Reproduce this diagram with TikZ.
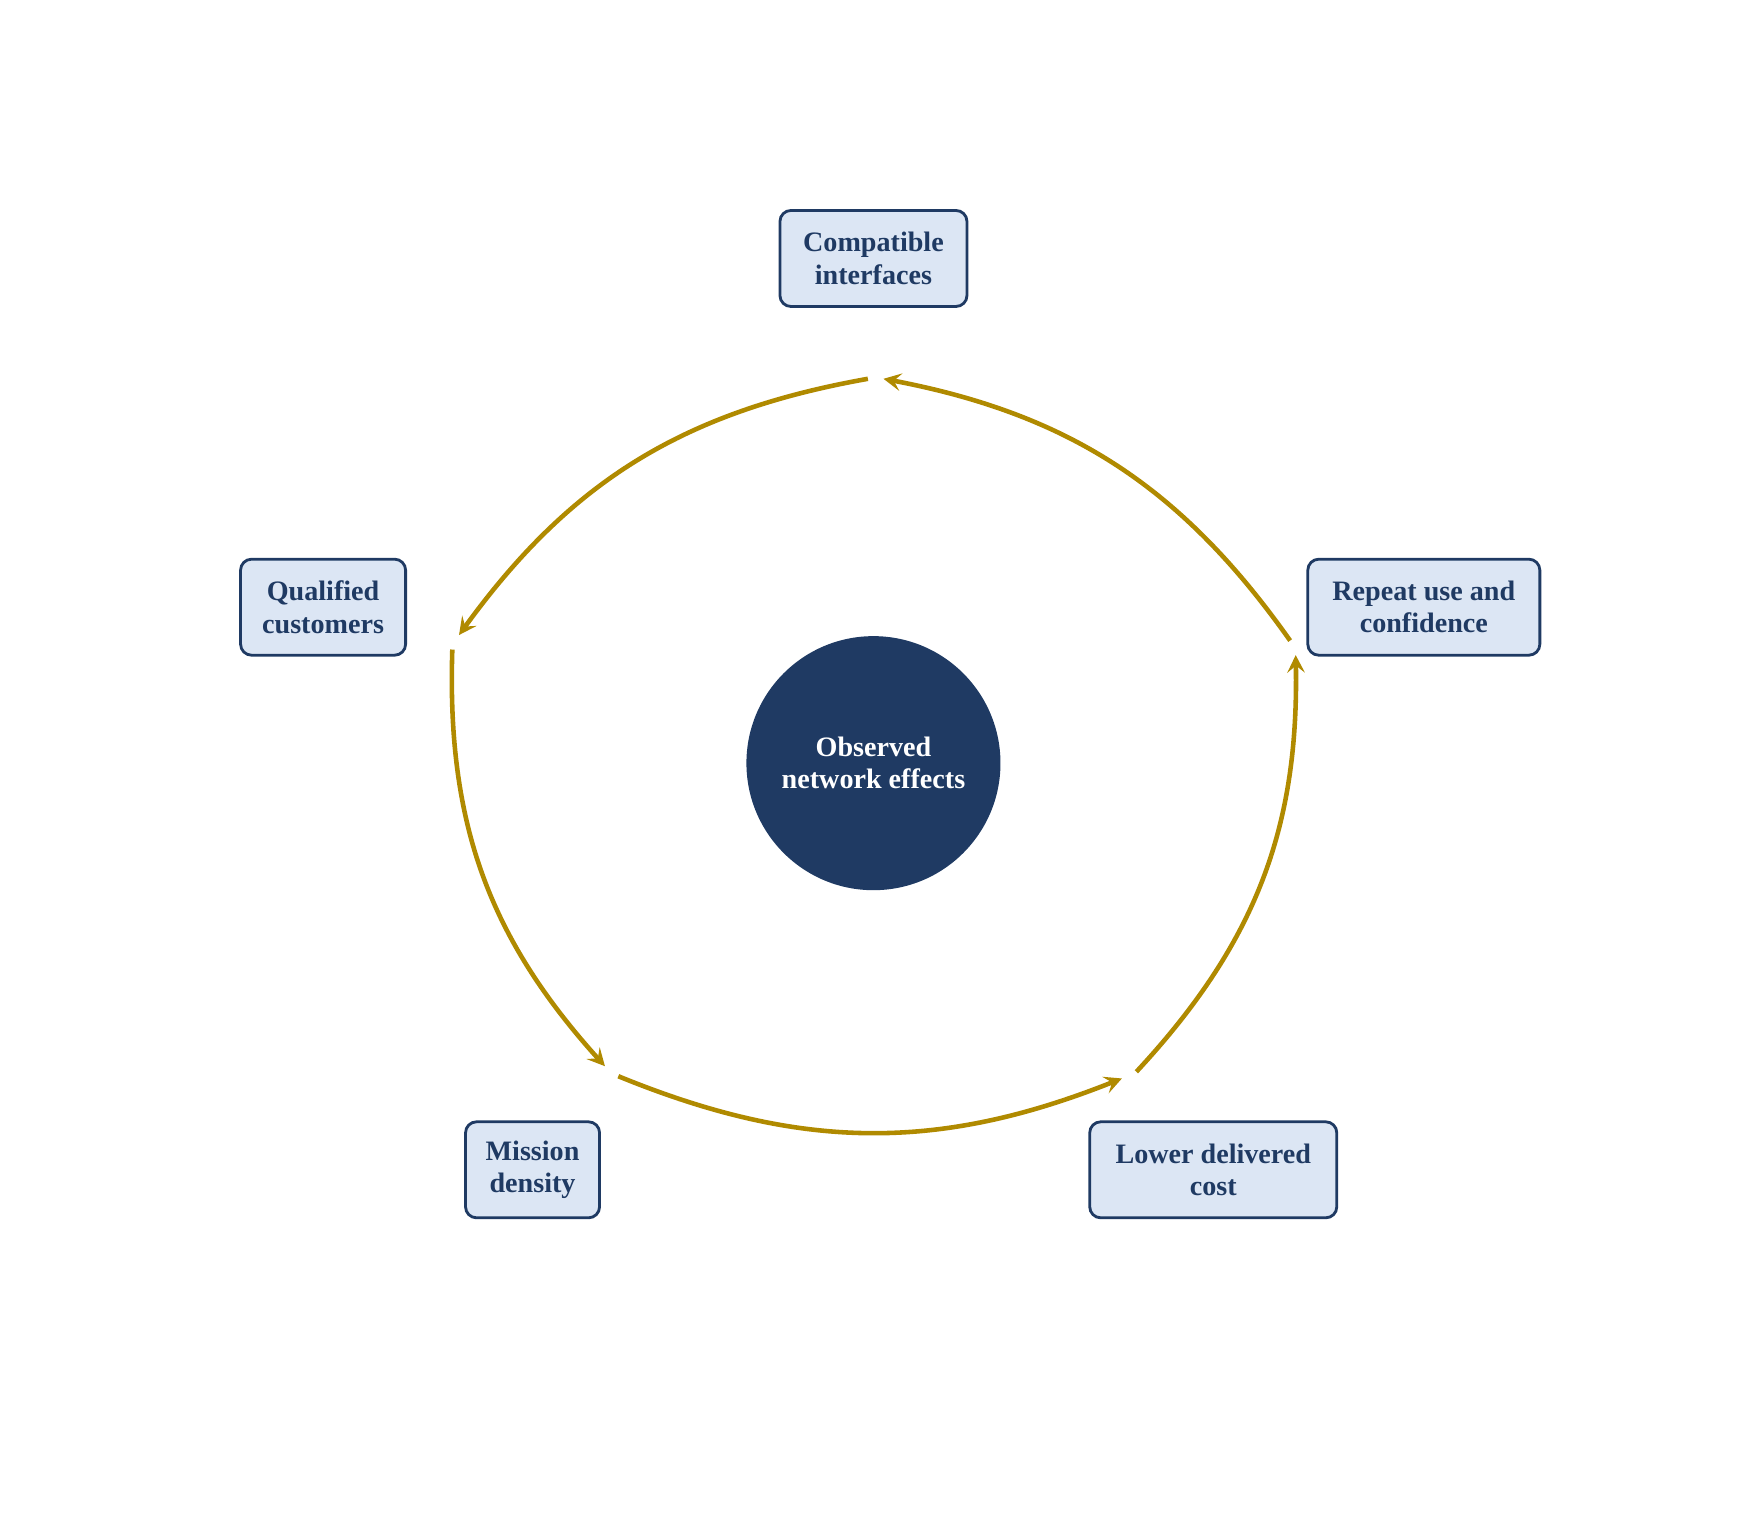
\documentclass[tikz,border=0pt]{standalone}
\usepackage{fontspec}
\setmainfont{Liberation Serif}
\usetikzlibrary{arrows.meta}
\definecolor{navy}{HTML}{1F3A63}
\definecolor{boxfill}{HTML}{DCE6F4}
\definecolor{gold}{HTML}{B08A00}
\begin{document}
\begin{tikzpicture}[x=0.01114cm,y=-0.01114cm,
  box/.style={draw=navy,fill=boxfill,line width=0.8pt,rounded corners=0.11cm,text=navy,
    font=\fontsize{8}{9.2}\selectfont\bfseries,align=center,inner sep=0pt,minimum height=0.96cm},
  arr/.style={draw=gold,line width=1.3pt,-{Stealth[length=5pt,width=5pt,inset=2pt]}}]
\useasboundingbox (0,0) rectangle (1560,1362);
\node[circle,fill=navy,minimum size=2.54cm,text=white,align=center,inner sep=0pt,
  font=\fontsize{8}{9.2}\selectfont\bfseries] (c) at (784,685) {Observed\\network effects};
\node[box,minimum width=1.87cm] (a) at (784,232) {Compatible\\interfaces};
\node[box,minimum width=1.65cm] (b) at (290,545) {Qualified\\customers};
\node[box,minimum width=1.34cm] (d) at (478,1050) {Mission\\density};
\node[box,minimum width=2.47cm] (e) at (1089,1050) {Lower delivered\\cost};
\node[box,minimum width=2.32cm] (f) at (1278,545) {Repeat use and\\confidence};
\coordinate (a1) at (779,340); \coordinate (a2) at (793,340);
\coordinate (b1) at (412,570); \coordinate (b2) at (406,583);
\coordinate (d1) at (543,957); \coordinate (d2) at (555,966);
\coordinate (e1) at (1007,968); \coordinate (e2) at (1020,962);
\coordinate (f1) at (1163,588); \coordinate (f2) at (1158,575);
\draw[arr] (a1) to[bend right=22] (b1);
\draw[arr] (b2) to[bend right=22] (d1);
\draw[arr] (d2) to[bend right=22] (e1);
\draw[arr] (e2) to[bend right=22] (f1);
\draw[arr] (f2) to[bend right=22] (a2);
\end{tikzpicture}
\end{document}
